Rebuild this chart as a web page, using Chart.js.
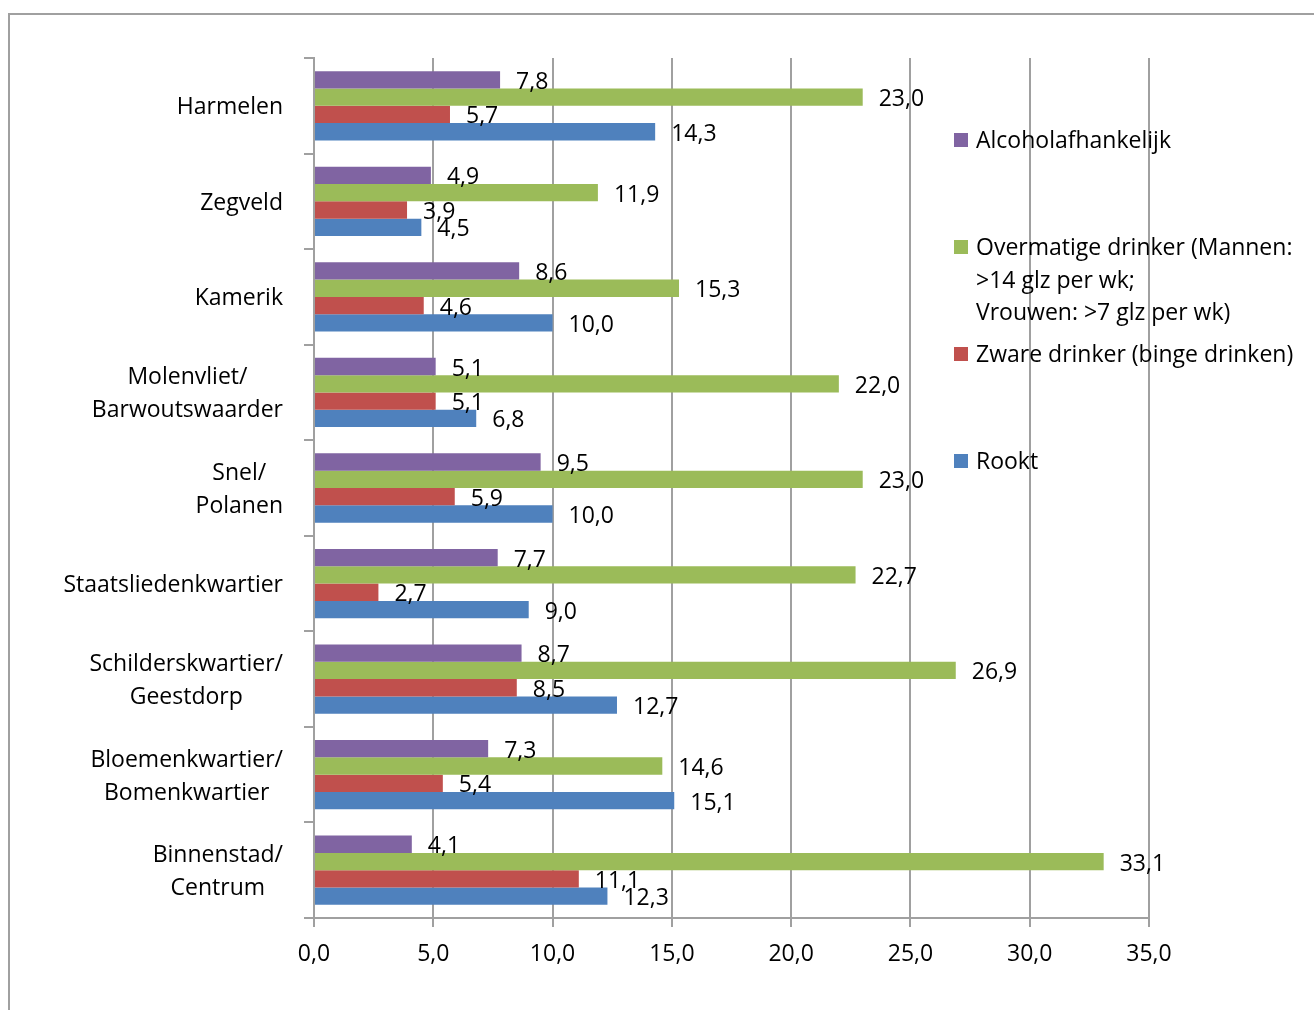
<!DOCTYPE html>
<html>
<head>
<meta charset="utf-8">
<script src="https://cdn.jsdelivr.net/npm/chart.js@4.4.1/dist/chart.umd.min.js"></script>
<style>
    body { margin: 0; background: #fff; }
    canvas { display: block; }
</style>
</head>
<body>
<canvas id="myChart" width="1314" height="1010"></canvas>
<script>
// data
var wijken = [["Harmelen"], ["Zegveld"], ["Kamerik"], ["Molenvliet/", "Barwoutswaarder"], ["Snel/", "Polanen"],
    ["Staatsliedenkwartier"], ["Schilderskwartier/", "Geestdorp"], ["Bloemenkwartier/", "Bomenkwartier"], ["Binnenstad/", "Centrum"]];
var alcoholafhankelijk = [7.8, 4.9, 8.6, 5.1, 9.5, 7.7, 8.7, 7.3, 4.1];
var overmatig = [23.0, 11.9, 15.3, 22.0, 23.0, 22.7, 26.9, 14.6, 33.1];
var zwaar = [5.7, 3.9, 4.6, 5.1, 5.9, 2.7, 8.5, 5.4, 11.1];
var rookt = [14.3, 4.5, 10.0, 6.8, 10.0, 9.0, 12.7, 15.1, 12.3];
var xTicks = [0, 5, 10, 15, 20, 25, 30, 35];
var legendLabels = [["Alcoholafhankelijk"], ["Overmatige drinker (Mannen:", ">14 glz per wk;", "Vrouwen: >7 glz per wk)"],
    ["Zware drinker (binge drinken)"], ["Rookt"]];

var FONT = '23px "Open Sans"';
var GRID = '#a0a0a0';

function fmt(v) {
    return v.toFixed(1).replace('.', ',');
}

// frame, category labels, value labels and legend
var extras = {
    id: 'extras',
    beforeDraw: function (chart) {
        var c = chart.ctx;
        c.save();
        c.strokeStyle = GRID;
        c.lineWidth = 2;
        c.strokeRect(9, 14, 2000, 2000);
        c.restore();
    },
    afterDraw: function (chart) {
        var c = chart.ctx;
        c.save();
        c.font = FONT;
        c.fillStyle = '#000';
        c.textBaseline = 'middle';

        // category labels, lines centred, block right aligned
        var yScale = chart.scales.y;
        wijken.forEach(function (lines, i) {
            var yc = yScale.getPixelForValue(i) + 2;
            var w = Math.max.apply(null, lines.map(function (t) { return c.measureText(t).width; }));
            var cx = 283 - w / 2;
            c.textAlign = 'center';
            lines.forEach(function (t, j) {
                c.fillText(t, cx, yc + (j - (lines.length - 1) / 2) * 33);
            });
        });

        // value labels
        c.textAlign = 'left';
        chart.data.datasets.forEach(function (ds, di) {
            chart.getDatasetMeta(di).data.forEach(function (bar, i) {
                c.fillText(fmt(ds.data[i]), bar.x + 16, bar.y + 2.5);
            });
        });

        // legend
        chart.data.datasets.forEach(function (ds, di) {
            var y = 140 + 107 * di;
            c.fillStyle = ds.backgroundColor;
            c.fillRect(954, y - 7, 14, 14);
            c.fillStyle = '#000';
            legendLabels[di].forEach(function (t, j) {
                c.fillText(t, 976, y + 1.5 + j * 32.5);
            });
        });
        c.restore();
    }
};

var ctx = document.getElementById('myChart');
var myChart = new Chart(ctx, {
    type: 'bar',
    data: {
        labels: wijken,
        datasets: [
            { label: legendLabels[0].join(' '), data: alcoholafhankelijk, backgroundColor: '#8064A2' },
            { label: legendLabels[1].join(' '), data: overmatig, backgroundColor: '#9BBB59' },
            { label: legendLabels[2].join(' '), data: zwaar, backgroundColor: '#C0504D' },
            { label: legendLabels[3].join(' '), data: rookt, backgroundColor: '#4F81BD' }
        ]
    },
    options: {
        indexAxis: 'y',
        responsive: false,
        animation: false,
        devicePixelRatio: 1,
        categoryPercentage: 0.725,
        barPercentage: 1,
        layout: { padding: { left: 0, right: 165, top: 58, bottom: 0 } },
        plugins: {
            legend: { display: false },
            tooltip: { enabled: false }
        },
        scales: {
            x: {
                min: 0,
                max: 35,
                afterBuildTicks: function (scale) {
                    scale.ticks = xTicks.map(function (v) { return { value: v }; });
                },
                afterFit: function (scale) { scale.height = 92; },
                grid: { color: GRID, lineWidth: 2, tickLength: 9 },
                border: { color: GRID, width: 2 },
                ticks: {
                    color: '#000',
                    font: { family: 'Open Sans', size: 23 },
                    padding: 14,
                    maxRotation: 0,
                    callback: function (v) { return fmt(v); }
                }
            },
            y: {
                afterFit: function (scale) { scale.width = 314; },
                grid: { offset: true, drawOnChartArea: false, color: GRID, lineWidth: 2, tickLength: 10 },
                border: { color: GRID, width: 2 },
                ticks: { display: false }
            }
        }
    },
    plugins: [extras]
});
</script>
</body>
</html>
